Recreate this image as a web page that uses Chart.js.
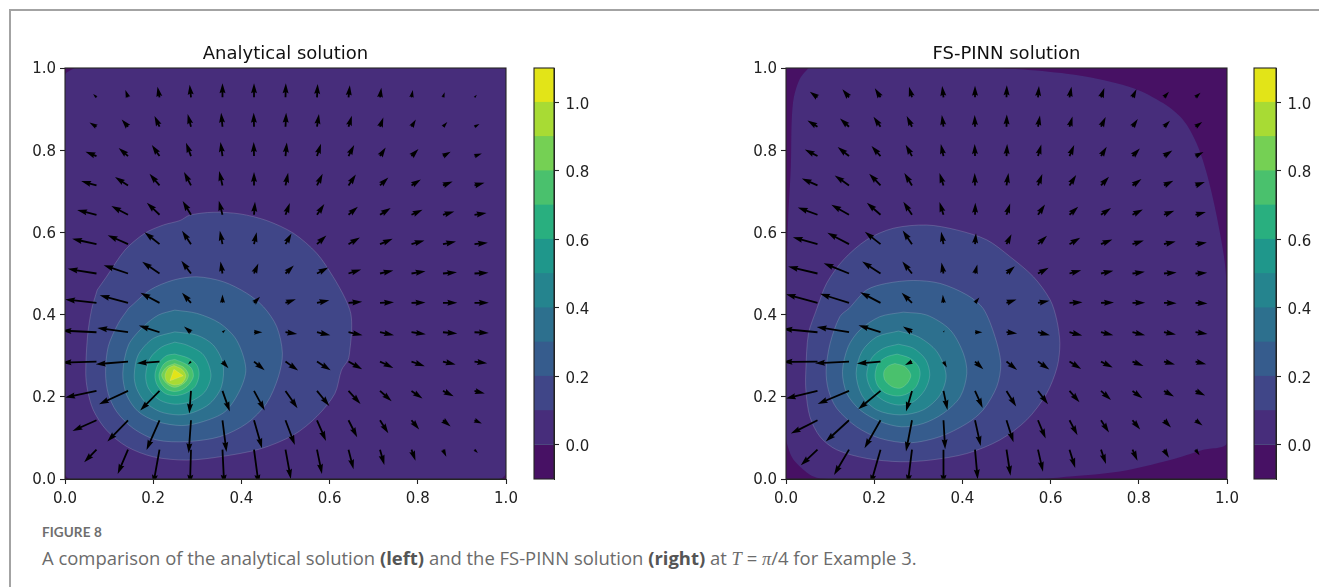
<!DOCTYPE html>
<html><head><meta charset="utf-8">
<script src="https://cdn.jsdelivr.net/npm/chart.js@4"></script>
<style>
html,body{margin:0;padding:0;background:#fff;width:1319px;height:587px;overflow:hidden;position:relative}
canvas{position:absolute;filter:blur(0.45px)}
.wrap{position:absolute}
#frameTop{position:absolute;left:9px;top:9px;width:1310px;height:2px;background:#a3a3a3}
#frameLeft{position:absolute;left:9px;top:9px;width:2px;height:578px;background:#a3a3a3}
#fig{position:absolute;left:42px;top:524px;font:700 13.5px Lato,sans-serif;color:#6e6e6e;letter-spacing:.1px}
#cap{position:absolute;left:42px;top:545px;font:400 18.45px "Open Sans",sans-serif;color:#6b6b6b;white-space:nowrap}
#cap b{color:#555}
#cap i{font-family:"Liberation Serif",serif}
</style></head><body>
<div id="frameTop"></div><div id="frameLeft"></div>
<div class="wrap" style="left:0;top:0;width:525px;height:510px"><canvas id="a"></canvas></div>
<div class="wrap" style="left:525px;top:40px;width:80px;height:460px"><canvas id="ac"></canvas></div>
<div class="wrap" style="left:721px;top:0;width:525px;height:510px"><canvas id="b"></canvas></div>
<div class="wrap" style="left:1245px;top:40px;width:74px;height:460px"><canvas id="bc"></canvas></div>
<div id="fig">FIGURE 8</div>
<div id="cap">A comparison of the analytical solution <b>(left)</b> and the FS-PINN solution <b>(right)</b> at <i>T</i> = <i>π</i>/4 for Example 3.</div>
<script>
const titles=['Analytical solution','FS-PINN solution'];
const axisTicks=[0,0.2,0.4,0.6,0.8,1];
const colorbarTicks=[0,0.2,0.4,0.6,0.8,1];
const levels=[-0.1,0,0.1,0.2,0.3,0.4,0.5,0.6,0.7,0.8,0.9,1,1.1];
const bandColors=['#471164','#472d7b','#404688','#365c8d','#2d708e','#25848e','#1f978b','#29af7f','#4ac16d','#75d054','#a8db34','#e2e418'];
const gridCols=[0.0714,0.1429,0.2143,0.2857,0.3571,0.4286,0.5,0.5714,0.6429,0.7143,0.7857,0.8571,0.9286];
const gridRows=[0.9286,0.8571,0.7857,0.7143,0.6429,0.5714,0.5,0.4286,0.3571,0.2857,0.2143,0.1429,0.0714];
const square=[[0,0],[1,0],[1,1],[0,1],[0,0]];

// left panel: filled contour outlines (x,y), lowest level first
const L00=[[.022,1],[.995,1],[1,.995],[1,.015],[.985,0],[.012,0],[0,.012],[0,.982],[.022,1]];
const L01=[[.073,.460],[.094,.492],[.136,.557],[.181,.598],[.223,.618],[.261,.629],[.283,.642],[.336,.649],[.397,.645],[.457,.629],[.518,.598],[.571,.549],[.608,.492],[.635,.440],[.648,.403],[.650,.363],[.646,.314],[.642,.290],[.627,.265],[.612,.208],[.571,.152],[.518,.107],[.442,.073],[.351,.054],[.276,.046],[.200,.054],[.140,.079],[.094,.119],[.064,.168],[.051,.217],[.047,.257],[.051,.346],[.060,.411],[.073,.460]];
const L02=[[.144,.415],[.193,.460],[.246,.484],[.299,.492],[.359,.480],[.412,.452],[.450,.419],[.480,.371],[.493,.306],[.484,.249],[.457,.184],[.412,.135],[.351,.103],[.276,.091],[.208,.095],[.155,.123],[.117,.164],[.098,.208],[.092,.257],[.098,.322],[.121,.379],[.144,.415]];
const L03=[[.249,.411],[.299,.403],[.351,.379],[.389,.338],[.410,.269],[.397,.217],[.363,.164],[.314,.140],[.265,.130],[.208,.140],[.166,.164],[.140,.204],[.131,.257],[.144,.326],[.178,.371],[.212,.399],[.249,.411]];
const L04=[[.249,.358],[.299,.350],[.336,.326],[.358,.281],[.355,.225],[.329,.184],[.291,.162],[.257,.156],[.215,.164],[.181,.188],[.162,.221],[.157,.253],[.166,.302],[.200,.342],[.249,.358]];
const L05=[[.249,.333],[.276,.326],[.314,.302],[.331,.253],[.317,.212],[.283,.188],[.249,.182],[.215,.192],[.189,.221],[.183,.253],[.193,.294],[.219,.321],[.249,.333]];
const L06=[[.249,.304],[.280,.294],[.299,.277],[.304,.253],[.295,.225],[.272,.208],[.249,.203],[.227,.208],[.209,.229],[.204,.253],[.212,.281],[.230,.300],[.249,.304]];
const L07=[[.249,.291],[.272,.281],[.287,.269],[.291,.249],[.280,.229],[.265,.217],[.249,.213],[.231,.218],[.218,.233],[.213,.253],[.222,.277],[.234,.287],[.249,.291]];
const L08=[[.249,.281],[.270,.271],[.280,.253],[.272,.235],[.249,.223],[.230,.233],[.219,.253],[.230,.272],[.249,.281]];
const L09=[[.247,.276],[.265,.267],[.274,.251],[.265,.233],[.247,.229],[.231,.237],[.227,.253],[.234,.269],[.247,.276]];
const L10=[[.247,.267],[.268,.251],[.238,.239],[.247,.267]];
const leftContours=[square,L00,L01,L02,L03,L04,L05,L06,L07,L08,L09,L10];

// right panel
const R00=[[.051,1],[.032,.975],[.018,.930],[.013,.873],[.011,.760],[.005,.638],[.002,.525],[0,.427],[0,.103],[.013,.054],[.032,.030],[.062,.006],[.096,0],[.568,0],[.644,.006],[.757,.018],[.871,.046],[.946,.071],[1,.089],[.998,.492],[.977,.638],[.954,.744],[.931,.817],[.901,.873],[.856,.914],[.788,.951],[.682,.979],[.568,.994],[.493,.999],[.463,1],[.051,1]];
const R01=[[.070,.415],[.092,.476],[.130,.533],[.183,.582],[.243,.610],[.319,.618],[.387,.606],[.455,.582],[.508,.541],[.561,.492],[.599,.436],[.614,.387],[.621,.330],[.615,.273],[.591,.208],[.546,.144],[.485,.095],[.410,.062],[.327,.046],[.259,.042],[.183,.050],[.115,.071],[.077,.103],[.054,.152],[.045,.217],[.045,.265],[.051,.354],[.070,.415]];
const R02=[[.143,.415],[.183,.460],[.228,.476],[.289,.483],[.349,.476],[.410,.448],[.447,.415],[.474,.346],[.487,.281],[.478,.225],[.447,.168],[.410,.135],[.349,.103],[.281,.088],[.213,.099],[.160,.127],[.115,.172],[.096,.217],[.091,.265],[.100,.330],[.122,.395],[.143,.415]];
const R03=[[.266,.406],[.319,.399],[.372,.363],[.402,.306],[.410,.257],[.395,.200],[.357,.160],[.311,.135],[.262,.127],[.213,.140],[.168,.168],[.138,.208],[.128,.261],[.141,.322],[.168,.363],[.213,.395],[.266,.406]];
const R04=[[.255,.360],[.300,.346],[.342,.310],[.363,.253],[.349,.204],[.311,.168],[.259,.156],[.206,.168],[.172,.204],[.159,.257],[.172,.310],[.206,.346],[.255,.360]];
const R05=[[.255,.328],[.289,.318],[.317,.290],[.326,.253],[.315,.217],[.289,.188],[.255,.180],[.221,.191],[.194,.217],[.183,.253],[.194,.294],[.221,.318],[.255,.328]];
const R06=[[.252,.304],[.281,.294],[.300,.274],[.304,.253],[.295,.225],[.274,.207],[.251,.202],[.224,.210],[.207,.229],[.202,.253],[.209,.281],[.228,.297],[.252,.304]];
const R07=[[.247,.281],[.270,.273],[.283,.253],[.275,.233],[.259,.221],[.240,.225],[.224,.241],[.222,.261],[.232,.275],[.247,.281]];
const rightContours=[square,R00,R01,R02,R03,R04,R05,R06,R07];

// arrows: one row per grid row, top row first
const leftU=[
[-10,-8,-6,-4,0,0,1,2,4,4,4,5,7],
[-21,-19,-15,-10,-4,-1,2,6,10,10,13,13,15],
[-33,-28,-23,-15,-6,-1,4,12,17,17,21,23,22],
[-46,-39,-30,-21,-10,0,8,17,22,25,28,29,30],
[-58,-50,-38,-25,-11,3,13,22,28,32,33,34,36],
[-73,-61,-45,-27,-8,8,18,28,34,38,39,39,40],
[-86,-73,-52,-29,-6,13,25,34,38,40,42,42,42],
[-94,-85,-57,-27,0,18,31,37,41,42,42,43,43],
[-105,-92,-62,-21,9,25,35,40,42,42,43,43,43],
[-105,-97,-68,-9,18,32,38,41,41,40,40,38,38],
[-94,-87,-58,-5,22,32,36,37,36,35,33,32,31],
[-72,-62,-39,-7,12,24,28,27,26,25,23,23,22],
[-37,-31,-19,-3,5,14,16,15,15,13,12,10,10]];
const leftV=[
[10,22,32,38,42,42,42,40,36,29,22,15,8],
[13,22,32,38,42,42,42,38,33,28,22,14,8],
[13,24,33,40,42,42,41,37,33,26,21,13,8],
[13,25,35,40,43,40,38,35,33,24,18,12,8],
[14,26,36,41,42,39,35,32,24,20,15,10,5],
[16,27,36,40,40,36,32,26,20,16,11,8,4],
[14,25,35,38,36,30,24,18,12,9,7,4,2],
[10,23,30,30,25,18,11,8,3,2,1,0,0],
[5,13,20,17,7,0,-5,-9,-9,-9,-6,-4,-2],
[-3,-8,-5,-9,-20,-26,-27,-26,-23,-19,-14,-9,-5],
[-20,-40,-59,-68,-62,-59,-52,-45,-39,-31,-23,-16,-8],
[-32,-64,-89,-99,-95,-84,-74,-62,-51,-39,-28,-19,-10],
[-38,-73,-105,-105,-105,-105,-88,-73,-59,-46,-33,-21,-10]];
const rightU=[
[-23,-20,-17,-9,-4,0,1,3,6,10,12,15,15],
[-30,-27,-21,-16,-5,-1,1,6,9,14,16,18,20],
[-38,-34,-27,-19,-8,-1,2,10,14,17,22,25,24],
[-47,-43,-34,-23,-12,-1,6,13,20,24,27,28,28],
[-59,-53,-41,-26,-12,1,11,21,26,30,31,31,31],
[-74,-65,-47,-28,-7,3,15,27,32,34,34,35,34],
[-88,-76,-55,-29,-6,7,25,32,35,37,37,38,35],
[-95,-87,-61,-31,-2,13,30,34,39,39,38,38,36],
[-105,-97,-66,-27,3,22,32,36,38,37,38,36,36],
[-105,-102,-71,-21,10,25,32,34,35,35,33,33,32],
[-95,-94,-67,-18,12,23,29,30,30,30,30,30,29],
[-80,-70,-48,-18,5,17,21,23,24,24,23,21,21],
[-50,-45,-30,-13,0,8,12,15,17,15,15,15,12]];
const rightV=[
[17,24,27,32,34,35,36,34,32,28,24,17,14],
[19,25,30,32,35,35,37,34,31,29,23,18,14],
[20,27,30,34,36,36,36,35,33,28,23,17,12],
[21,30,35,37,37,37,37,34,31,26,19,14,10],
[22,30,36,39,38,36,34,31,24,20,16,12,8],
[21,34,37,41,37,33,30,25,19,14,11,8,5],
[21,31,36,36,33,27,22,17,10,8,5,3,2],
[26,27,32,30,24,16,10,6,2,1,0,-1,-2],
[10,16,21,17,6,0,-4,-9,-10,-9,-9,-7,-5],
[-1,-5,-6,-10,-18,-23,-25,-24,-22,-18,-13,-9,-8],
[-23,-39,-55,-62,-57,-51,-47,-40,-34,-27,-22,-17,-14],
[-40,-64,-84,-94,-87,-77,-66,-55,-45,-37,-28,-22,-16],
[-47,-76,-105,-105,-105,-89,-78,-66,-55,-43,-33,-24,-17]];

const quiverUnitX=1/1323, quiverUnitY=1/1233;

function tailsFrom(U,V){
  const pts=[];
  gridRows.forEach((y,r)=>gridCols.forEach((x,c)=>pts.push({x,y,u:U[r][c],v:V[r][c]})));
  return pts;
}
const SHAFT=1.8, HEADW=6, HEADL=10, AXISL=9;
const quiverPlugin={id:'quiver',afterDatasetsDraw(chart){
  const ctx=chart.ctx,{x:xs,y:ys}=chart.scales,a=chart.chartArea;
  ctx.save();ctx.beginPath();ctx.rect(a.left,a.top,a.width,a.height);ctx.clip();
  ctx.fillStyle='#000';
  chart.data.datasets.forEach(ds=>{
    if(!ds.isQuiver)return;
    ds.data.forEach(p=>{
      const x0=xs.getPixelForValue(p.x),y0=ys.getPixelForValue(p.y);
      const x1=xs.getPixelForValue(p.x+p.u*quiverUnitX),y1=ys.getPixelForValue(p.y+p.v*quiverUnitY);
      const dx=x1-x0,dy=y1-y0,L=Math.hypot(dx,dy);if(L<.1)return;
      const k=Math.min(1,L/HEADL),ux=dx/L,uy=dy/L,nx=-uy,ny=ux;
      const hl=HEADL*k,al=AXISL*k,hw=HEADW*k/2,sw=SHAFT*k/2;
      const P=(t,n)=>[x0+ux*t+nx*n,y0+uy*t+ny*n];
      const poly=[P(0,sw),P(L-al,sw),P(L-hl,hw),P(L,0),P(L-hl,-hw),P(L-al,-sw),P(0,-sw)];
      ctx.beginPath();poly.forEach((q,i)=>i?ctx.lineTo(q[0],q[1]):ctx.moveTo(q[0],q[1]));ctx.closePath();ctx.fill();
    });
  });
  ctx.restore();
}};
const framePlugin={id:'frame',afterDraw(chart){
  const a=chart.chartArea,ctx=chart.ctx;
  ctx.save();ctx.strokeStyle='#262626';ctx.lineWidth=1.1;
  ctx.strokeRect(a.left,a.top,a.width,a.height);ctx.restore();
}};
const seamPlugin={id:'seam',beforeDatasetsDraw(chart){
  const a=chart.chartArea,ctx=chart.ctx;
  ctx.save();ctx.fillStyle='rgba(90,120,140,1)';ctx.fillRect(a.left,a.top,a.width,a.height);ctx.restore();
}};
function labelNudge(offsets){return {id:'labelNudge',beforeDraw(chart){
  Object.values(chart.scales).forEach(s=>{
    const d=offsets[s.axis];if(!d||!s.options.display)return;
    s.getLabelItems(chart.chartArea).forEach(it=>{
      if(it._nudged)return;it._nudged=true;
      it.options.translation=[it.options.translation[0]+d[0],it.options.translation[1]+d[1]];
    });
  });
}};}
const FONT='"DejaVu Sans"';
function axis(extra){
  return Object.assign({type:'linear',min:0,max:1,
    afterBuildTicks:s=>{s.ticks=axisTicks.map(v=>({value:v}))},
    ticks:{callback:v=>Number(v).toFixed(1),color:'#222',font:{family:FONT,size:15},padding:4,maxRotation:0},
    grid:{drawOnChartArea:false,color:'#222',tickLength:5,tickWidth:1.1},
    border:{color:'#222'}},extra);
}
function panel(id,title,contours,U,V){
  const fills=contours.map((c,i)=>({
    data:c.map(p=>({x:p[0],y:p[1]})),showLine:true,fill:'shape',
    backgroundColor:bandColors[i],
    borderColor:i<2?'rgba(255,255,255,0)':'rgba(235,240,245,0.22)',borderWidth:i<1?0:0.8,
    pointRadius:0,pointHitRadius:0,tension:c.length<6?0:0.3
  })).reverse();
  const el=document.getElementById(id);
  return new Chart(el,{type:'scatter',
    data:{datasets:[{isQuiver:true,data:tailsFrom(U,V),pointRadius:0,showLine:false},...fills]},
    options:{responsive:false,animation:false,devicePixelRatio:1,
      layout:{padding:{left:0,top:68,right:19,bottom:0}},
      plugins:{legend:{display:false},tooltip:{enabled:false},title:{display:false}},
      scales:{x:axis({afterFit:s=>{s.height=31}}),y:axis({afterFit:s=>{s.width=65}})}},
    plugins:[labelNudge({x:[0,2],y:[0,1.5]}),quiverPlugin,framePlugin,{id:'ttl',afterDraw(ch){
      const c=ch.ctx,a=ch.chartArea;c.save();c.fillStyle='#111';c.font='18px '+FONT;c.textAlign='center';c.textBaseline='alphabetic';
      c.fillText(title,(a.left+a.right)/2,59);c.restore();}}]
  });
}
function colorbar(id,padL,axisW){
  const el=document.getElementById(id);
  return new Chart(el,{type:'bar',
    data:{labels:['band'],datasets:bandColors.map((col,i)=>({data:[[levels[i],levels[i+1]]],backgroundColor:col,borderWidth:0,barPercentage:1,categoryPercentage:1,grouped:false}))},
    options:{responsive:false,animation:false,devicePixelRatio:1,
      layout:{padding:{left:padL,right:0,top:28,bottom:21}},
      plugins:{legend:{display:false},tooltip:{enabled:false}},
      scales:{x:{display:false,stacked:false},
        y:{position:'right',min:-0.1,max:1.1,
          afterBuildTicks:s=>{s.ticks=colorbarTicks.map(v=>({value:v}))},
          afterFit:s=>{s.width=axisW},
          ticks:{callback:v=>Number(v).toFixed(1),color:'#222',font:{family:FONT,size:15},padding:6},
          grid:{drawOnChartArea:false,color:'#222',tickLength:5,tickWidth:1.1},border:{color:'#222'}}}},
    plugins:[labelNudge({y:[0.5,2.5]}),seamPlugin,framePlugin]});
}
function size(id,w,h){const e=document.getElementById(id);e.width=w;e.height=h;e.style.width=w+'px';e.style.height=h+'px';}
size('a',525,510);size('ac',80,460);size('b',525,510);size('bc',74,460);
panel('a',titles[0],leftContours,leftU,leftV);
panel('b',titles[1],rightContours,rightU,rightV);
colorbar('ac',9,51);
colorbar('bc',9,43);
</script>
</body></html>
